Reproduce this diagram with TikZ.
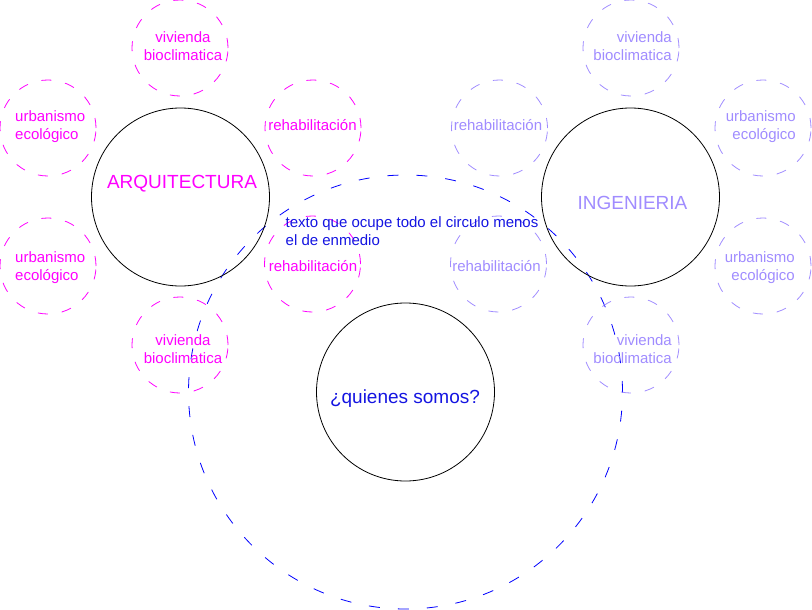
\documentclass[tikz,border=0pt]{standalone}
\usepackage{fontspec}
\setmainfont{Liberation Sans}
\definecolor{mag}{RGB}{255,0,255}
\definecolor{lav}{RGB}{160,140,255}
\definecolor{dblue}{RGB}{0,0,255}
\definecolor{tblue}{RGB}{20,20,225}
\begin{document}
\begin{tikzpicture}[x=1pt,y=-1pt,
  mainc/.style={circle,draw=black,line width=0.8pt,minimum size=178pt,inner sep=0pt},
  sat/.style={circle,line width=0.8pt,dash pattern=on 10pt off 14pt,minimum size=96pt,inner sep=0pt},
  magsat/.style={sat,draw=mag},
  lavsat/.style={sat,draw=lav},
  bigc/.style={circle,draw=dblue,line width=0.8pt,dash pattern=on 11pt off 18pt,minimum size=434pt,inner sep=0pt},
  lbl/.style={font=\fontsize{15}{18.5}\selectfont,inner sep=0pt},
  maglbl/.style={lbl,text=mag},
  lavlbl/.style={lbl,text=lav},
  biglbl/.style={font=\fontsize{19}{22}\selectfont,inner sep=0pt}]
\useasboundingbox (0,0) rectangle (812,610);
% big dashed circle
\node[bigc] (big) at (405.5,392) {};
% main circles
\node[mainc] (A) at (180.5,197) {};
\node[mainc] (I) at (630.5,197) {};
\node[mainc] (Q) at (405.5,392) {};
% left satellites
\node[magsat] (la) at (180,48) {};
\node[magsat] (lb) at (48,128) {};
\node[magsat] (lc) at (313,128) {};
\node[magsat] (ld) at (48,266) {};
\node[magsat] (le) at (312.5,264) {};
\node[magsat] (lf) at (180,345) {};
% right satellites
\node[lavsat] (ra) at (631,48) {};
\node[lavsat] (rb) at (499.5,128) {};
\node[lavsat] (rc) at (763,128) {};
\node[lavsat] (rd) at (763,266) {};
\node[lavsat] (re) at (498.5,264) {};
\node[lavsat] (rf) at (631,345) {};
% main labels
\node[biglbl,text=mag] (tA) at (182,184) {ARQUITECTURA};
\node[biglbl,text=lav] (tI) at (632.5,203) {INGENIERIA};
\node[biglbl,text=tblue] (tQ) at (405,399) {¿quienes somos?};
\node[lbl,text=tblue,align=left,anchor=west] (tT) at (285.5,231) {texto que ocupe todo el circulo menos\\el de enmedio};
% left labels
\node[maglbl,align=center] (tla) at (183,46) {vivienda\\bioclimatica};
\node[maglbl,align=left,anchor=west] (tlb) at (15,126.5) {urbanismo\\ecológico};
\node[maglbl] (tlc) at (312.5,125) {rehabilitación};
\node[maglbl,align=left,anchor=west] (tld) at (15,267.5) {urbanismo\\ecológico};
\node[maglbl] (tle) at (313,266) {rehabilitación};
\node[maglbl,align=center] (tlf) at (183,349) {vivienda\\bioclimatica};
% right labels
\node[lavlbl,align=right,anchor=east] (tra) at (672,46) {vivienda\\bioclimatica};
\node[lavlbl] (trb) at (498,125) {rehabilitación};
\node[lavlbl,align=right,anchor=east] (trc) at (796,126.5) {urbanismo\\ecológico};
\node[lavlbl,align=right,anchor=east] (trd) at (795,267.5) {urbanismo\\ecológico};
\node[lavlbl] (tre) at (496.5,266) {rehabilitación};
\node[lavlbl,align=right,anchor=east] (trf) at (672,349) {vivienda\\bioclimatica};
\end{tikzpicture}
\end{document}
